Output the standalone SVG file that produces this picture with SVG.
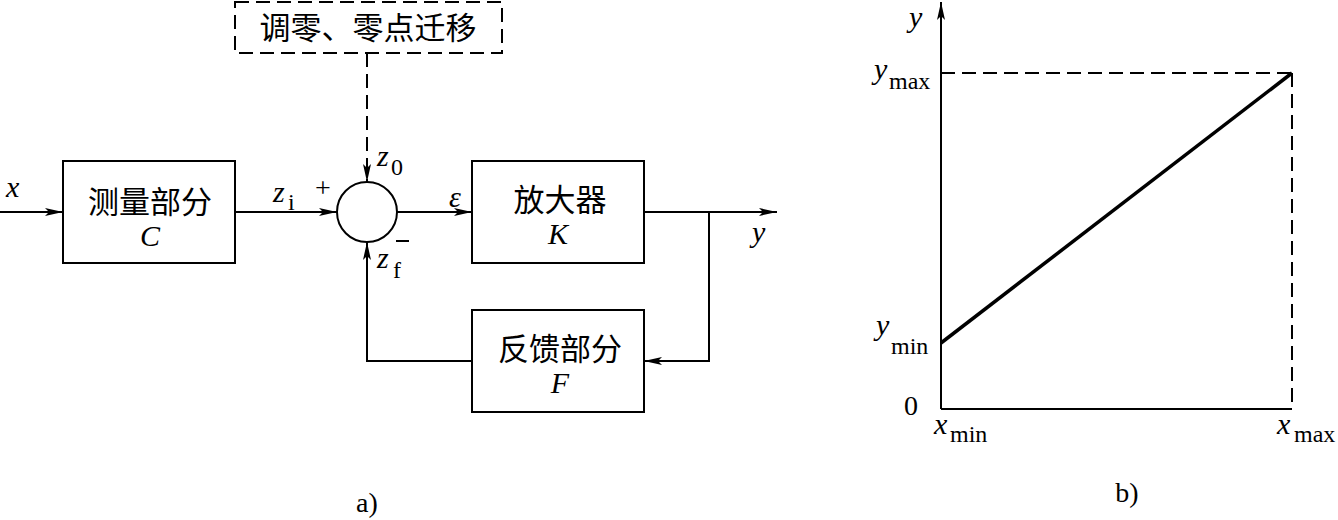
<svg xmlns="http://www.w3.org/2000/svg" width="1338" height="520" viewBox="0 0 1338 520">
<style>
.box{fill:#fff;stroke:#000;stroke-width:2}
.ln{fill:none;stroke:#000;stroke-width:2}
.dash{fill:none;stroke:#000;stroke-width:2;stroke-dasharray:14 7}
.cn{font-family:"Liberation Serif","Noto Sans CJK SC",serif;font-size:31px;fill:#000;text-anchor:middle}
.it{font-family:"Liberation Serif",serif;font-style:italic;font-size:30px;fill:#000}
.sub{font-family:"Liberation Serif",serif;font-size:24px;fill:#000}
.rm{font-family:"Liberation Serif",serif;font-size:28px;fill:#000}
</style>
<defs>
<marker id="arr" markerUnits="userSpaceOnUse" markerWidth="20" markerHeight="10" refX="18" refY="4" orient="auto">
<path d="M0,0 L18,4 L0,8 L4,4 z" fill="#000"/>
</marker>
</defs>
<rect width="1338" height="520" fill="#fff"/>

<g id="zero-adjust">
<rect x="235" y="2" width="267" height="51" class="box" stroke-dasharray="14 7"/>
<text x="368" y="39" class="cn">调零、零点迁移</text>
</g>
<g id="measure-C">
<rect x="63" y="161" width="172" height="102" class="box"/>
<text x="150" y="213" class="cn">测量部分</text>
<text x="150" y="246" class="it" text-anchor="middle">C</text>
</g>
<g id="sum">
<circle cx="367" cy="212" r="30" class="box"/>
</g>
<g id="amp-K">
<rect x="472" y="161" width="172" height="102" class="box"/>
<text x="560" y="211" class="cn">放大器</text>
<text x="558" y="244" class="it" text-anchor="middle">K</text>
</g>
<g id="feedback-F">
<rect x="472" y="310" width="172" height="102" class="box"/>
<text x="560" y="360" class="cn">反馈部分</text>
<text x="560" y="393" class="it" text-anchor="middle">F</text>
</g>

<g id="connectors">
<line x1="0" y1="212" x2="63" y2="212" class="ln" marker-end="url(#arr)"/>
<line x1="235" y1="212" x2="337" y2="212" class="ln" marker-end="url(#arr)"/>
<line x1="367" y1="53" x2="367" y2="182" class="dash" marker-end="url(#arr)"/>
<line x1="397" y1="212" x2="472" y2="212" class="ln" marker-end="url(#arr)"/>
<line x1="644" y1="212" x2="777" y2="212" class="ln" marker-end="url(#arr)"/>
<polyline points="709,212 709,361 644,361" class="ln" marker-end="url(#arr)"/>
<polyline points="472,361 367,361 367,242" class="ln" marker-end="url(#arr)"/>
</g>

<g id="labels-a">
<text x="6" y="197" class="it">x</text>
<text x="273" y="202" class="it">z</text><text x="288" y="210" class="sub">i</text>
<text x="315" y="197" class="rm">+</text>
<text x="377" y="166" class="it">z</text><text x="391" y="175" class="sub">0</text>
<text x="449" y="207" class="it">ε</text>
<text x="377" y="268" class="it">z</text><text x="393" y="278" class="sub">f</text>
<line x1="396" y1="241" x2="409" y2="241" class="ln"/>
<text x="752" y="242" class="it">y</text>
<text x="367" y="512" class="rm" text-anchor="middle">a)</text>
</g>

<g id="graph-b">
<line x1="941" y1="409" x2="941" y2="2" class="ln" marker-end="url(#arr)"/>
<line x1="941" y1="409" x2="1292" y2="409" class="ln"/>
<line x1="941" y1="73" x2="1292" y2="73" class="dash"/>
<line x1="1292" y1="73" x2="1292" y2="409" class="dash"/>
<line x1="941" y1="343" x2="1292" y2="73" stroke="#000" stroke-width="3.5"/>
<text x="909" y="27" class="it" font-size="28">y</text>
<text x="874" y="79" class="it">y</text><text x="889" y="89" class="sub">max</text>
<text x="876" y="335" class="it">y</text><text x="891" y="354" class="sub">min</text>
<text x="904" y="415" class="rm">0</text>
<text x="934" y="434" class="it">x</text><text x="950" y="442" class="sub">min</text>
<text x="1277" y="434" class="it">x</text><text x="1294" y="442" class="sub">max</text>
<text x="1127" y="502" class="rm" text-anchor="middle">b)</text>
</g>
</svg>
